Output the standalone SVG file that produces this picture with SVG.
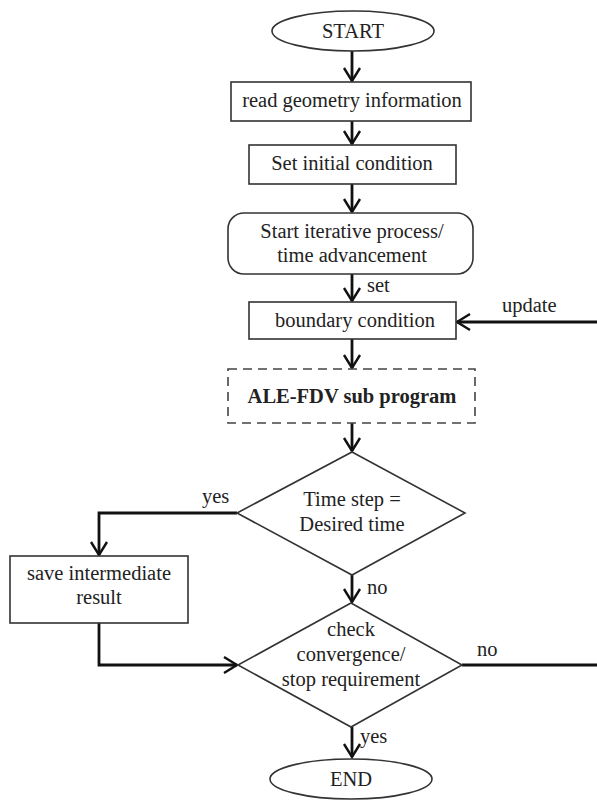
<svg xmlns="http://www.w3.org/2000/svg" width="597" height="801" viewBox="0 0 597 801">
<style>
.n{fill:#fff;stroke:#333;stroke-width:1.6}
.d{fill:#fff;stroke:#444;stroke-width:1.6;stroke-dasharray:9 6}
.t{font-family:"Liberation Serif","Times New Roman",serif;font-size:20.5px;fill:#222;text-anchor:middle}
.l{font-family:"Liberation Serif","Times New Roman",serif;font-size:20.5px;fill:#222}
.b{font-weight:bold}
.c{fill:none;stroke:#111;stroke-width:2.8}
</style>
<defs>
<marker id="ah" markerUnits="userSpaceOnUse" markerWidth="20" markerHeight="20" viewBox="-16 -10 20 20" refX="0" refY="0" orient="auto">
<path d="M-13,-8 L0,0 L-13,8" fill="none" stroke="#111" stroke-width="2.4"/>
</marker>
</defs>
<rect width="597" height="801" fill="#fff"/>
<g id="connectors">
<line class="c" x1="352" y1="51" x2="352" y2="81" marker-end="url(#ah)"/>
<line class="c" x1="352" y1="121" x2="352" y2="144" marker-end="url(#ah)"/>
<line class="c" x1="352" y1="184" x2="352" y2="212" marker-end="url(#ah)"/>
<line class="c" x1="352" y1="274" x2="352" y2="301" marker-end="url(#ah)"/>
<line class="c" x1="597" y1="322" x2="457" y2="322" marker-end="url(#ah)"/>
<line class="c" x1="352" y1="339" x2="352" y2="368" marker-end="url(#ah)"/>
<line class="c" x1="352" y1="423" x2="352" y2="451" marker-end="url(#ah)"/>
<polyline class="c" points="237,513 99,513 99,555" marker-end="url(#ah)"/>
<line class="c" x1="352" y1="575" x2="352" y2="602" marker-end="url(#ah)"/>
<polyline class="c" points="99,623 99,665 237,665" marker-end="url(#ah)"/>
<line class="c" x1="462" y1="665" x2="597" y2="665"/>
<line class="c" x1="352" y1="727" x2="352" y2="757" marker-end="url(#ah)"/>
<text class="l" x="367" y="292">set</text>
<text class="l" x="502" y="312">update</text>
<text class="l" x="202" y="503">yes</text>
<text class="l" x="367" y="594">no</text>
<text class="l" x="477" y="656">no</text>
<text class="l" x="360" y="743">yes</text>
</g>
<g id="start">
<ellipse class="n" cx="353" cy="31" rx="81" ry="20"/>
<text class="t" x="353" y="38">START</text>
</g>
<g id="read">
<rect class="n" x="231" y="82" width="240" height="39"/>
<text class="t" x="352" y="107">read geometry information</text>
</g>
<g id="init">
<rect class="n" x="249" y="145" width="207" height="39"/>
<text class="t" x="352" y="170">Set initial condition</text>
</g>
<g id="iter">
<rect class="n" x="228" y="213" width="245" height="61" rx="16"/>
<text class="t" x="352" y="238">Start iterative process/</text>
<text class="t" x="352" y="262">time advancement</text>
</g>
<g id="boundary">
<rect class="n" x="249" y="302" width="207" height="37"/>
<text class="t" x="355" y="327">boundary condition</text>
</g>
<g id="ale">
<rect class="d" x="228" y="369" width="247" height="54"/>
<text class="t b" x="352" y="403">ALE-FDV sub program</text>
</g>
<g id="timestep">
<polygon class="n" points="352,452 465,513 352,575 237,513"/>
<text class="t" x="352" y="506">Time step =</text>
<text class="t" x="352" y="531">Desired time</text>
</g>
<g id="save">
<rect class="n" x="10" y="556" width="178" height="67"/>
<text class="t" x="99" y="580">save intermediate</text>
<text class="t" x="99" y="604">result</text>
</g>
<g id="check">
<polygon class="n" points="351,603 462,665 351,727 238,665"/>
<text class="t" x="351" y="636">check</text>
<text class="t" x="351" y="661">convergence/</text>
<text class="t" x="351" y="686">stop requirement</text>
</g>
<g id="end">
<ellipse class="n" cx="351" cy="779" rx="81" ry="20"/>
<text class="t" x="351" y="786">END</text>
</g>
</svg>
